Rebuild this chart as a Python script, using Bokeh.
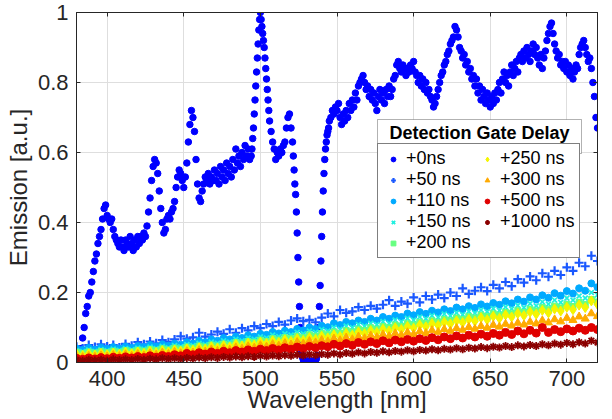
from bokeh.plotting import figure
from bokeh.models import Legend, LegendItem, FixedTicker, LinearAxis, Range1d, BoxAnnotation, Label
from bokeh.embed import file_html
from bokeh.resources import INLINE

# ---------------- data ----------------
x_ticks = [400, 450, 500, 550, 600, 650, 700]
y_ticks = [0, 0.2, 0.4, 0.6, 0.8, 1]

# +0 ns spectrum (1 nm sampling, 0.5 nm on the steep flanks)
wl0 = (list(range(382, 494))
       + [494, 494.5, 495, 495.5, 496, 496.5, 497, 497.5, 498, 498.5, 499, 499.5, 500,
          500.5, 501, 501.5, 502, 502.5, 503, 503.5, 504, 504.5, 505, 505.5, 506]
       + list(range(507, 521))
       + [521, 521.5, 522, 522.5, 523, 523.5, 524, 524.5, 525, 525.5,
          526, 526.5, 527, 527.5, 528, 528.5, 529, 529.5, 530, 530.5,
          531, 531.5, 532, 532.5, 533, 533.5, 534, 534.5, 535, 535.5,
          536, 536.5, 537, 537.5, 538, 538.5, 539, 539.5, 540, 540.5,
          541, 541.5, 542, 542.5, 543, 543.5, 544, 544.5, 545]
       + list(range(546, 721)))
em0 = ([.02, .04, .07, .10, .14, .16, .19, .20, .23, .26,
        .29, .31, .34, .36, .38, .41, .44, .45, .42, .41,
        .40, .41, .38, .36, .35, .34, .33, .35, .33, .32,
        .35, .34, .33, .36, .34, .32, .35, .33, .36, .34,
        .36, .35, .37, .36, .39, .43, .47, .52, .56, .58,
        .57, .54, .49, .44, .40, .37, .38, .41, .42, .41,
        .43, .44, .46, .50, .53, .55, .54, .52, .50, .53,
        .57, .63, .68, .72, .70, .66, .58, .51, .47, .46,
        .49, .51, .53, .52, .54, .51, .53, .52, .55, .52,
        .54, .51, .56, .53, .55, .52, .57, .54, .56, .53,
        .58, .55, .61, .57, .59, .56, .60, .58, .62, .59,
        .61, .58]
       + [.59, .61, .64, .67, .71, .75, .79, .83, .87, .91, .95, .98, 1.0,
          .98, .96, .94, .92, .90, .87, .84, .81, .78, .75, .72, .69]
       + [.66, .63, .61, .58, .60, .59, .61, .60, .62, .63, .67, .70, .71, .67]
       + [.63, .59, .55, .51, .48, .43, .37, .30, .23, .16,
          .10, .06, .03, .015, .008, .005, .004, .003, .004, .003,
          .004, .003, .004, .003, .004, .003, .004, .003, .004, .004,
          .006, .01, .02, .05, .10, .16, .22, .29, .36, .43,
          .49, .54, .58, .61, .63, .65, .66, .67, .69]
       + [.70, .72, .71, .73, .72, .74, .70, .68, .71, .69,
          .72, .70, .74, .72, .75, .73, .77, .75, .79, .80,
          .81, .82, .80, .78, .79, .76, .78, .75, .77, .74,
          .72, .76, .78, .75, .77, .74, .78, .76, .79, .76,
          .78, .81, .82, .85, .86, .84, .83, .85, .84, .82,
          .84, .83, .85, .84, .86, .83, .82, .80, .82, .79,
          .81, .78, .80, .77, .78, .76, .75, .73, .74, .76,
          .78, .80, .82, .83, .85, .86, .88, .89, .91, .92,
          .93, .96, .95, .93, .90, .89, .87, .88, .85, .86,
          .83, .84, .81, .82, .79, .81, .77, .79, .75, .78,
          .76, .74, .77, .75, .73, .76, .74, .77, .75, .78,
          .80, .77, .81, .83, .80, .82, .79, .83, .85, .82,
          .84, .86, .83, .87, .88, .86, .89, .87, .90, .88,
          .86, .89, .91, .88, .90, .87, .85, .88, .84, .87,
          .89, .92, .94, .96, .97, .94, .91, .89, .87, .88,
          .85, .86, .84, .86, .83, .85, .82, .84, .81, .83,
          .85, .84, .88, .90, .91, .92, .90, .88, .86, .87,
          .84, .80, .76, .70, .67])

# delayed spectra, sampled every 4 nm
wl_band = list(range(380, 721, 4))
em50 = [.045, .040, .050, .044, .052, .046, .050, .043, .053, .048,
        .058, .052, .060, .055, .064, .058, .066, .075, .068, .072,
        .085, .074, .080, .088, .082, .095, .085, .098, .092, .104,
        .098, .110, .104, .116, .108, .120, .126, .118, .122, .115,
        .128, .140, .132, .150, .142, .146, .158, .150, .162, .154,
        .165, .178, .162, .174, .168, .186, .172, .190, .180, .194,
        .184, .200, .190, .212, .196, .205, .215, .204, .222, .212,
        .230, .218, .238, .228, .246, .235, .255, .245, .262, .250,
        .272, .262, .285, .275, .305, .290]
em110 = [.040, .036, .042, .037, .043, .039, .044, .040, .046, .042,
         .047, .044, .050, .046, .052, .048, .054, .051, .058, .054,
         .062, .058, .066, .062, .070, .066, .074, .070, .078, .074,
         .082, .079, .087, .083, .091, .087, .096, .092, .100, .096,
         .105, .101, .112, .107, .116, .112, .120, .116, .125, .120,
         .130, .125, .134, .130, .140, .135, .144, .139, .148, .143,
         .152, .147, .157, .152, .161, .156, .166, .160, .170, .165,
         .175, .169, .180, .174, .186, .180, .192, .185, .198, .191,
         .204, .197, .212, .205, .226, .215]
em150 = [.034, .031, .036, .032, .037, .034, .038, .035, .040, .036,
         .041, .038, .044, .040, .046, .042, .048, .045, .051, .048,
         .055, .051, .058, .055, .062, .058, .066, .062, .070, .066,
         .073, .070, .078, .074, .082, .078, .086, .082, .090, .086,
         .094, .090, .100, .095, .104, .100, .108, .104, .112, .108,
         .117, .112, .121, .116, .126, .121, .130, .125, .134, .129,
         .138, .133, .142, .137, .146, .141, .150, .145, .154, .149,
         .158, .153, .163, .157, .168, .162, .173, .167, .178, .172,
         .184, .178, .190, .184, .200, .193]
em200 = [.029, .026, .030, .027, .031, .028, .032, .029, .034, .030,
         .035, .032, .037, .034, .039, .036, .041, .038, .044, .041,
         .047, .044, .050, .047, .053, .050, .057, .053, .060, .057,
         .064, .060, .068, .064, .071, .068, .075, .071, .079, .075,
         .083, .079, .087, .083, .091, .087, .095, .091, .099, .095,
         .103, .099, .107, .103, .111, .107, .115, .111, .119, .115,
         .123, .119, .127, .123, .131, .127, .135, .131, .139, .135,
         .143, .139, .148, .143, .152, .147, .157, .151, .161, .156,
         .166, .160, .172, .166, .180, .173]
em250 = [.024, .020, .025, .021, .026, .022, .027, .023, .029, .025,
         .030, .026, .032, .028, .034, .030, .036, .032, .039, .035,
         .042, .038, .045, .041, .048, .044, .052, .047, .055, .050,
         .058, .054, .062, .057, .065, .060, .068, .063, .071, .066,
         .075, .070, .079, .074, .083, .078, .087, .082, .091, .086,
         .095, .090, .099, .094, .103, .098, .107, .102, .111, .106,
         .115, .110, .119, .114, .123, .118, .128, .122, .132, .126,
         .136, .130, .140, .134, .144, .138, .149, .142, .153, .147,
         .158, .151, .164, .157, .176, .166]
em300 = [.018, .015, .019, .016, .020, .017, .021, .018, .023, .019,
         .024, .020, .026, .022, .028, .024, .030, .026, .032, .028,
         .035, .031, .037, .033, .040, .036, .043, .039, .046, .042,
         .049, .045, .052, .048, .055, .051, .058, .054, .061, .057,
         .064, .060, .068, .063, .071, .066, .074, .069, .077, .072,
         .080, .075, .083, .078, .086, .081, .089, .084, .092, .087,
         .095, .090, .098, .093, .101, .096, .104, .099, .107, .102,
         .110, .105, .113, .108, .116, .111, .120, .114, .123, .117,
         .127, .121, .131, .125, .140, .132]
em500 = [.012, .009, .013, .010, .014, .011, .015, .012, .016, .013,
         .017, .014, .019, .015, .020, .017, .022, .019, .026, .022,
         .028, .024, .030, .026, .032, .028, .034, .030, .036, .032,
         .038, .034, .040, .036, .042, .038, .044, .040, .046, .042,
         .048, .045, .052, .047, .054, .049, .057, .052, .059, .054,
         .062, .056, .064, .059, .066, .061, .068, .063, .071, .065,
         .073, .068, .076, .070, .078, .073, .081, .075, .083, .078,
         .086, .080, .090, .082, .092, .084, .100, .086, .094, .088,
         .096, .090, .098, .092, .100, .094]
em1000 = [.007, .005, .008, .006, .008, .006, .009, .007, .009, .007,
          .010, .008, .011, .009, .012, .010, .012, .010, .013, .011,
          .014, .012, .015, .013, .016, .014, .017, .015, .018, .016,
          .019, .017, .020, .018, .021, .019, .022, .020, .023, .021,
          .024, .022, .026, .023, .027, .025, .029, .026, .030, .028,
          .032, .029, .033, .031, .035, .032, .036, .034, .038, .035,
          .039, .037, .041, .038, .042, .040, .044, .041, .045, .043,
          .047, .044, .049, .046, .050, .047, .052, .049, .054, .051,
          .056, .052, .058, .054, .062, .057]

labels = ["+0ns", "+50 ns", "+110 ns", "+150 ns", "+200 ns",
          "+250 ns", "+300 ns", "+500 ns", "+1000 ns"]

# ---------------- figure ----------------
W, H = 612, 419
BL, BR, BT, BB = 76, 15, 12, 57
FW, FH = W - BL - BR, H - BT - BB
AX = "#262626"
FONT = "Liberation Sans"

p = figure(width=W, height=H, output_backend="svg", toolbar_location=None,
           x_range=Range1d(380, 720), y_range=Range1d(0, 1),
           min_border_left=BL, min_border_right=BR, min_border_top=BT, min_border_bottom=BB,
           x_axis_label="Wavelength [nm]", y_axis_label="Emission [a.u.]")
p.background_fill_color = "white"
p.border_fill_color = "white"
p.outline_line_color = AX
p.outline_line_width = 1

for ax in (p.xaxis[0], p.yaxis[0]):
    ax.axis_line_color = AX
    ax.major_tick_line_color = AX
    ax.major_tick_in = 4
    ax.major_tick_out = 0
    ax.minor_tick_line_color = None
    ax.major_label_text_font = FONT
    ax.major_label_text_font_size = "22px"
    ax.major_label_text_color = AX
    ax.axis_label_text_font = FONT
    ax.axis_label_text_font_size = "24px"
    ax.axis_label_text_font_style = "normal"
    ax.axis_label_text_color = AX
p.xaxis[0].ticker = FixedTicker(ticks=x_ticks)
p.yaxis[0].ticker = FixedTicker(ticks=y_ticks)
p.yaxis[0].major_label_overrides = {0: "0", 1: "1"}
p.xaxis[0].major_label_standoff = 8
p.yaxis[0].major_label_standoff = 8
p.xaxis[0].axis_label_standoff = -3
p.yaxis[0].axis_label_standoff = 3

for loc, tk in (("above", x_ticks), ("right", y_ticks)):
    a = LinearAxis(ticker=FixedTicker(ticks=tk), major_label_text_color=None,
                   major_label_text_font_size="1px",
                   major_tick_in=4, major_tick_out=0, major_label_standoff=0,
                   axis_line_color=AX, major_tick_line_color=AX, minor_tick_line_color=None)
    p.add_layout(a, loc)

p.xgrid.grid_line_color = "#DEDEDE"
p.ygrid.grid_line_color = "#DEDEDE"

r0 = p.scatter(wl0, em0, marker="circle", size=6.5, color="#0000FF")
r50 = p.scatter(wl_band, em50, marker="cross", size=9, line_width=2.2, color="#1A58FF")
r110 = p.scatter(wl_band, em110, marker="circle", size=7, color="#00AAFF")
r150 = p.scatter(wl_band, em150, marker="x", size=7, line_width=1.8, color="#20F0E0")
r200 = p.scatter(wl_band, em200, marker="square", size=6, color="#66FF80")
r250 = p.scatter(wl_band, em250, marker="diamond", size=10, color="#F5F500")
r300 = p.scatter(wl_band, em300, marker="triangle", size=8, color="#FFAA00")
r500 = p.scatter(wl_band, em500, marker="circle", size=8, color="#E00000")
r1000 = p.scatter(wl_band, em1000, marker="asterisk", size=8, line_width=1.8, color="#8B0000")
rends = [r0, r50, r110, r150, r200, r250, r300, r500, r1000]

# ---------------- legend ----------------
def px_x(px):
    return 380 + px * 340.0 / FW

def px_y(py):
    return 1 - py / float(FH)

LG_L, LG_W, LG_T, LG_B = 301, 204, 107, 246

title_box = BoxAnnotation(left=px_x(LG_L), right=px_x(LG_L + LG_W), top=px_y(LG_T), bottom=px_y(LG_T + 34),
                          fill_color="white", fill_alpha=1, line_color="black", line_width=1)
p.add_layout(title_box)
p.add_layout(Label(x=px_x(LG_L + LG_W / 2), y=px_y(LG_T + 13),
                   text="Detection Gate Delay", text_align="center", text_baseline="middle",
                   text_font=FONT, text_font_size="18px", text_font_style="bold",
                   text_color="black"))

legend = Legend(items=[LegendItem(label=l, renderers=[r]) for l, r in zip(labels, rends)],
                location=(LG_L, FH - LG_B), nrows=5, orientation="vertical",
                label_text_font=FONT, label_text_font_size="18px", label_text_color="black",
                glyph_width=22, glyph_height=12, label_width=70, label_height=20, label_standoff=2,
                spacing=0, padding=4, margin=0,
                border_line_color="black", border_line_width=1,
                background_fill_color="white", background_fill_alpha=1)
p.add_layout(legend)

open("out.html", "w").write(file_html(p, INLINE))
